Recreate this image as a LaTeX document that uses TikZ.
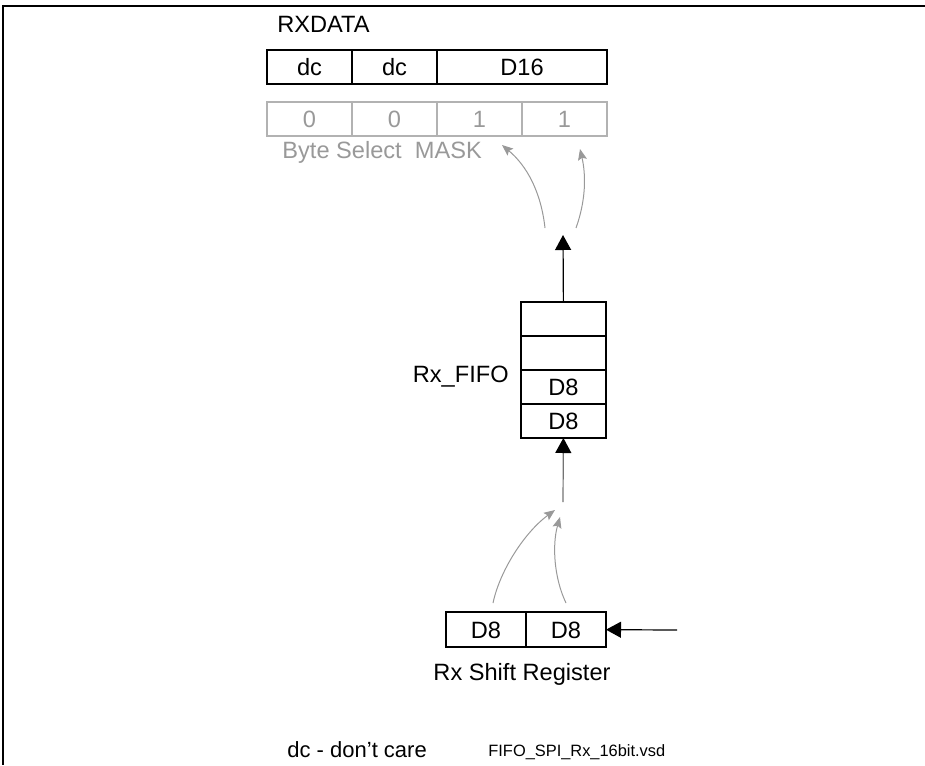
\documentclass[tikz,border=0pt]{standalone}
\usepackage{fontspec}
\setmainfont{Liberation Sans}
\usetikzlibrary{positioning, arrows.meta}

\begin{document}
\begin{tikzpicture}[
    x=0.5pt, y=-0.5pt,
    node distance=0pt,
    cell/.style={draw, line width=0.6pt, minimum width=42.5pt, minimum height=17pt,
                 inner sep=0pt, outer sep=0pt, font=\fontsize{11.8}{13}\selectfont,
                 text height=8.5pt, text depth=0pt},
    wide/.style={cell, minimum width=85pt},
    mask/.style={cell, draw=black!30, text=black!40},
    lbl/.style={inner sep=0pt, font=\fontsize{11.8}{13}\selectfont},
    arr/.style={-{Triangle[length=7.5pt, width=8pt]}, line width=0.6pt},
    garr/.style={-{Stealth[length=5.5pt, width=4.5pt, inset=1pt]}, black!40, line width=0.5pt},
  ]
  \useasboundingbox (0,0) rectangle (925,765);
  % frame
  \draw[line width=1pt] (2,6) -- (925,6);
  \draw[line width=1pt] (3,5) -- (3,765);
  % RXDATA register
  \node[lbl, anchor=base west] (rxdata) at (277,33) {RXDATA};
  \node[cell, anchor=north west] (rx1) at (267,50) {dc};
  \node[cell, right=of rx1] (rx2) {dc};
  \node[wide, right=of rx2] (rx3) {D16};
  % byte select mask
  \node[mask, anchor=north west] (m1) at (267,102) {0};
  \node[mask, right=of m1] (m2) {0};
  \node[mask, right=of m2] (m3) {1};
  \node[mask, right=of m3] (m4) {1};
  \node[lbl, anchor=base west, text=black!40] (masklbl) at (282,158) {Byte Select\ \ MASK};
  % Rx FIFO
  \node[cell, anchor=north west] (f1) at (521,302) {};
  \node[cell, below=of f1] (f2) {};
  \node[cell, below=of f2] (f3) {D8};
  \node[cell, below=of f3] (f4) {D8};
  \node[lbl, anchor=base east] (fifolbl) at (509,382) {Rx\_FIFO};
  % Rx shift register
  \node[cell, minimum width=40pt, minimum height=17.5pt, anchor=north west] (s1) at (446,612) {D8};
  \node[cell, minimum width=40pt, minimum height=17.5pt, right=of s1] (s2) {D8};
  \node[lbl, anchor=base] (shiftlbl) at (522,680) {Rx Shift Register};
  % free ends
  \coordinate (ftop) at (563,235);
  \coordinate (fin) at (563,502);
  \coordinate (sin) at (677,630);
  \coordinate (selL) at (545,228);
  \coordinate (selR) at (576,228);
  \coordinate (tipL) at (502,145);
  \coordinate (tipR) at (580,149);
  \coordinate (srcL) at (493,603);
  \coordinate (srcR) at (566,603);
  \coordinate (inL) at (555,510);
  \coordinate (inR) at (560,517);
  % arrows
  \draw[arr] (f1) -- (ftop);
  \draw[arr, -{Triangle[length=7.5pt, width=8pt, color=black]}, black!55] (fin) -- (f4);
  \draw[arr] (sin) -- (s2);
  \draw[garr] (selL) .. controls (541,192) and (527,166) .. (tipL);
  \draw[garr] (selR) .. controls (586,200) and (586,175) .. (tipR);
  \draw[garr] (srcL) .. controls (500,570) and (525,532) .. (inL);
  \draw[garr] (srcR) .. controls (554,578) and (552,545) .. (inR);
  % notes
  \node[lbl, anchor=base west, font=\fontsize{11}{13}\selectfont] (dclbl) at (287,757) {dc - don’t care};
  \node[lbl, anchor=base west, font=\fontsize{8.2}{10}\selectfont] (filelbl) at (488,756) {FIFO\_SPI\_Rx\_16bit.vsd};
\end{tikzpicture}
\end{document}
